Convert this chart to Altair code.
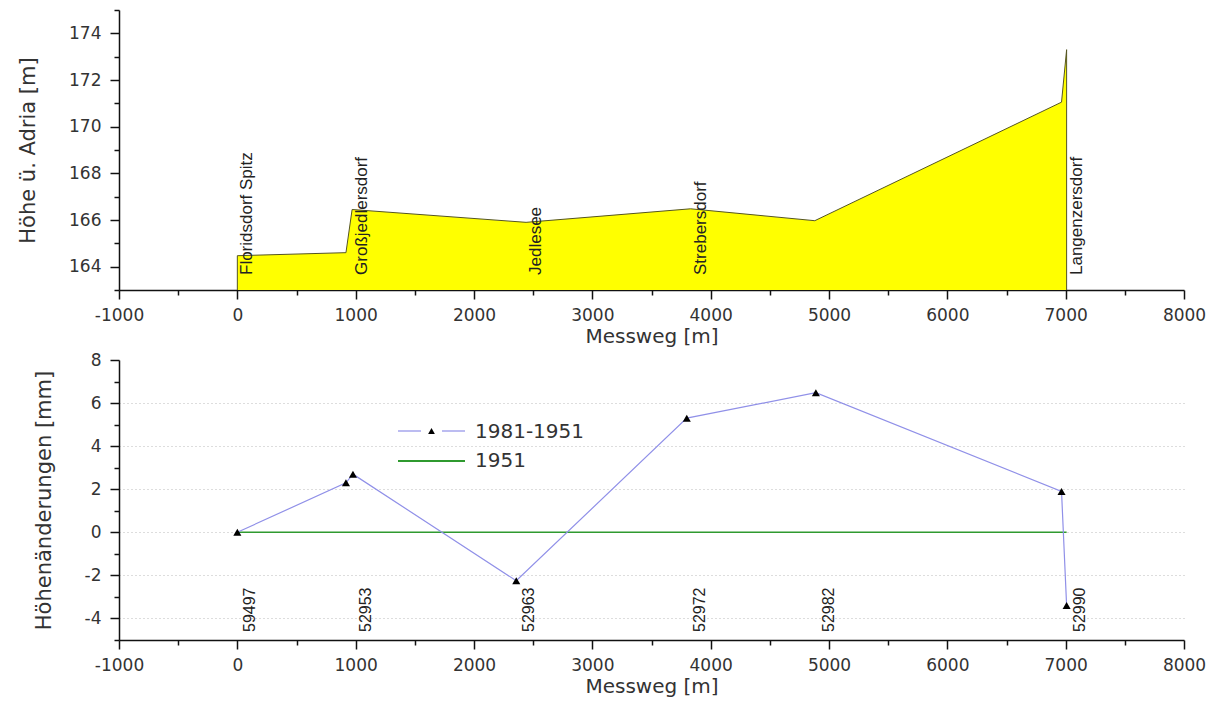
import altair as alt
import pandas as pd

# ---------------- data: top panel (terrain profile) ----------------
prof_x = [0, 0, 918, 970, 2440, 3830, 4880, 6965, 7008, 7008]
prof_h = [163.0, 164.47, 164.6, 166.45, 165.9, 166.48, 165.97, 171.05, 173.3, 163.0]
place_names = ["Floridsdorf Spitz", "Großjedlersdorf", "Jedlesee", "Strebersdorf", "Langenzersdorf"]
place_x = [0, 970, 2440, 3830, 7008]

# ---------------- data: bottom panel (height changes) ----------------
meas_x = [0, 918, 977, 2357, 3798, 4889, 6965, 7008]
diff_1981_1951 = [0.0, 2.3, 2.7, -2.25, 5.3, 6.48, 1.9, -3.4]
ref_1951 = [0.0, 0.0, 0.0, 0.0, 0.0, 0.0, 0.0, 0.0]
point_ids = ["59497", "52953", "52963", "52972", "52982", "52990"]
point_id_x = [0, 977, 2357, 3798, 4889, 7008]

# axis tick values
x_ticks = list(range(-1000, 8001, 500))
top_y_major = [164, 166, 168, 170, 172, 174]
top_y_minor = [163, 165, 167, 169, 171, 173, 175]
bot_y_major = [-4, -2, 0, 2, 4, 6, 8]
bot_y_minor = [-5, -3, -1, 1, 3, 5, 7]
bot_y_grid = [-4, -2, 0, 2, 4, 6]

FONT = "DejaVu Sans"
LFONT = "Liberation Sans"
TXT = "#333333"
AX = "#111111"

prof_df = pd.DataFrame({"i": range(len(prof_x)), "x": prof_x, "h": prof_h})
place_df = pd.DataFrame({"name": place_names, "x": place_x})
diff_df = pd.DataFrame({"i": range(len(meas_x)), "x": meas_x, "d": diff_1981_1951})
ref_df = pd.DataFrame({"i": range(len(meas_x)), "x": meas_x, "d": ref_1951})
id_df = pd.DataFrame({"id": point_ids, "x": point_id_x})

common_axis = dict(
    labelFont=FONT, labelFontSize=17, labelColor=TXT,
    titleFont=FONT, titleFontWeight="normal", titleColor=TXT,
    domainColor=AX, domainWidth=1.5, tickColor=AX, tickWidth=1.5,
    labelOverlap=False, labelFlush=False, labelBound=False,
)


def x_axis():
    return alt.Axis(
        values=x_ticks,
        labelExpr="datum.value % 1000 === 0 ? '' + datum.value : ''",
        tickSize={"condition": {"test": "datum.value % 1000 === 0", "value": 9}, "value": 5},
        labelPadding=8, title="Messweg [m]", titleFontSize=20, titlePadding=3,
        grid=False, **common_axis,
    )


def y_major(values, title):
    return alt.Axis(
        values=values, labelExpr="'' + datum.value", tickSize=9,
        labelPadding=9, title=title, titleFontSize=21, titlePadding=30,
        grid=False, orient="left", **common_axis,
    )


def y_minor(values):
    return alt.Axis(
        values=values, labels=False, domain=False, tickSize=5, tickWidth=1.5,
        tickColor=AX, grid=False, orient="left", title=None,
    )


xs = alt.Scale(domain=[-1000, 8000], nice=False, zero=False)
ys_top = alt.Scale(domain=[163, 175], nice=False, zero=False)
ys_bot = alt.Scale(domain=[-5, 8], nice=False, zero=False)

W, H = 1065, 280

# ---------------- top panel ----------------
area = alt.Chart(prof_df).mark_area(color="#ffff00", opacity=1).encode(
    x=alt.X("x:Q", scale=xs, axis=x_axis()),
    y=alt.Y("h:Q", scale=ys_top, stack=False,
            axis=y_major(top_y_major, "Höhe ü. Adria [m]")),
)
top_minor = alt.Chart(prof_df).mark_point(opacity=0).encode(
    x=alt.X("x:Q", scale=xs),
    y=alt.Y("h:Q", scale=ys_top, axis=y_minor(top_y_minor)),
)
outline = alt.Chart(prof_df).mark_line(color="#555522", strokeWidth=1).encode(
    x=alt.X("x:Q", scale=xs),
    y=alt.Y("h:Q", scale=ys_top, axis=None),
    order=alt.Order("i:Q"),
)
place_txt = alt.Chart(place_df).mark_text(
    angle=270, align="left", baseline="middle", dx=15, dy=10,
    font=LFONT, fontSize=17, color="#222222",
).encode(
    x=alt.X("x:Q", scale=xs),
    y=alt.YDatum(163, axis=None),
    text="name:N",
)
top = alt.layer(area, top_minor, outline, place_txt).resolve_axis(y="independent").properties(
    width=W, height=H)

# ---------------- bottom panel ----------------
PURPLE = "#9090e8"
GREEN = "#2f9a2f"
ref_line = alt.Chart(ref_df).mark_line(color=GREEN, strokeWidth=1.6).encode(
    x=alt.X("x:Q", scale=xs, axis=x_axis()),
    y=alt.Y("d:Q", scale=ys_bot, axis=y_major(bot_y_major, "Höhenänderungen [mm]")),
    order=alt.Order("i:Q"),
)
bot_minor = alt.Chart(ref_df).mark_point(opacity=0).encode(
    x=alt.X("x:Q", scale=xs),
    y=alt.Y("d:Q", scale=ys_bot, axis=y_minor(bot_y_minor)),
)
bot_grid = alt.Chart(ref_df).mark_point(opacity=0).encode(
    x=alt.X("x:Q", scale=xs),
    y=alt.Y("d:Q", scale=ys_bot, axis=alt.Axis(
        values=bot_y_grid, labels=False, domain=False, ticks=False, grid=True,
        gridColor="#bbbbbb", gridDash=[1, 3], gridWidth=1, orient="left", title=None)),
)
diff_line = alt.Chart(diff_df).mark_line(color=PURPLE, strokeWidth=1.2).encode(
    x=alt.X("x:Q", scale=xs),
    y=alt.Y("d:Q", scale=ys_bot, axis=None),
    order=alt.Order("i:Q"),
)
diff_pts = alt.Chart(diff_df).mark_point(
    shape="triangle-up", filled=True, color="black", size=65, opacity=1
).encode(
    x=alt.X("x:Q", scale=xs),
    y=alt.Y("d:Q", scale=ys_bot, axis=None),
)
id_txt = alt.Chart(id_df).mark_text(
    angle=270, align="left", baseline="middle", dx=8, dy=13,
    font=LFONT, fontSize=16, color="#222222",
).encode(
    x=alt.X("x:Q", scale=xs),
    y=alt.YDatum(-5, axis=None),
    text="id:N",
)

# legend (drawn inside the plot)
one = pd.DataFrame({"k": [0]})
leg_l1a = alt.Chart(one).mark_rule(color=PURPLE, strokeWidth=1.2).encode(
    x=alt.value(279), x2=alt.value(302), y=alt.value(71))
leg_l1b = alt.Chart(one).mark_rule(color=PURPLE, strokeWidth=1.2).encode(
    x=alt.value(323), x2=alt.value(346), y=alt.value(71))
leg_p1 = alt.Chart(one).mark_point(shape="triangle-up", filled=True, color="black", size=45, opacity=1).encode(
    x=alt.value(312.5), y=alt.value(71))
leg_t1 = alt.Chart(one).mark_text(text="1981-1951", align="left", baseline="middle",
                                  font=FONT, fontSize=20, color=TXT).encode(
    x=alt.value(356), y=alt.value(72))
leg_l2 = alt.Chart(one).mark_rule(color=GREEN, strokeWidth=2).encode(
    x=alt.value(279), x2=alt.value(346), y=alt.value(101))
leg_t2 = alt.Chart(one).mark_text(text="1951", align="left", baseline="middle",
                                  font=FONT, fontSize=20, color=TXT).encode(
    x=alt.value(356), y=alt.value(101))

bottom = alt.layer(
    ref_line, bot_minor, bot_grid, diff_line, diff_pts, id_txt,
    leg_l1a, leg_l1b, leg_p1, leg_t1, leg_l2, leg_t2,
).resolve_axis(y="independent").properties(width=W, height=H)

chart = alt.vconcat(top, bottom, spacing=70, bounds="flush").properties(
    padding={"left": 17, "top": 8, "right": 5, "bottom": 5},
    background="white",
).configure_view(stroke="transparent")

chart.save("out.html", embed_options={"renderer": "svg", "actions": False})
